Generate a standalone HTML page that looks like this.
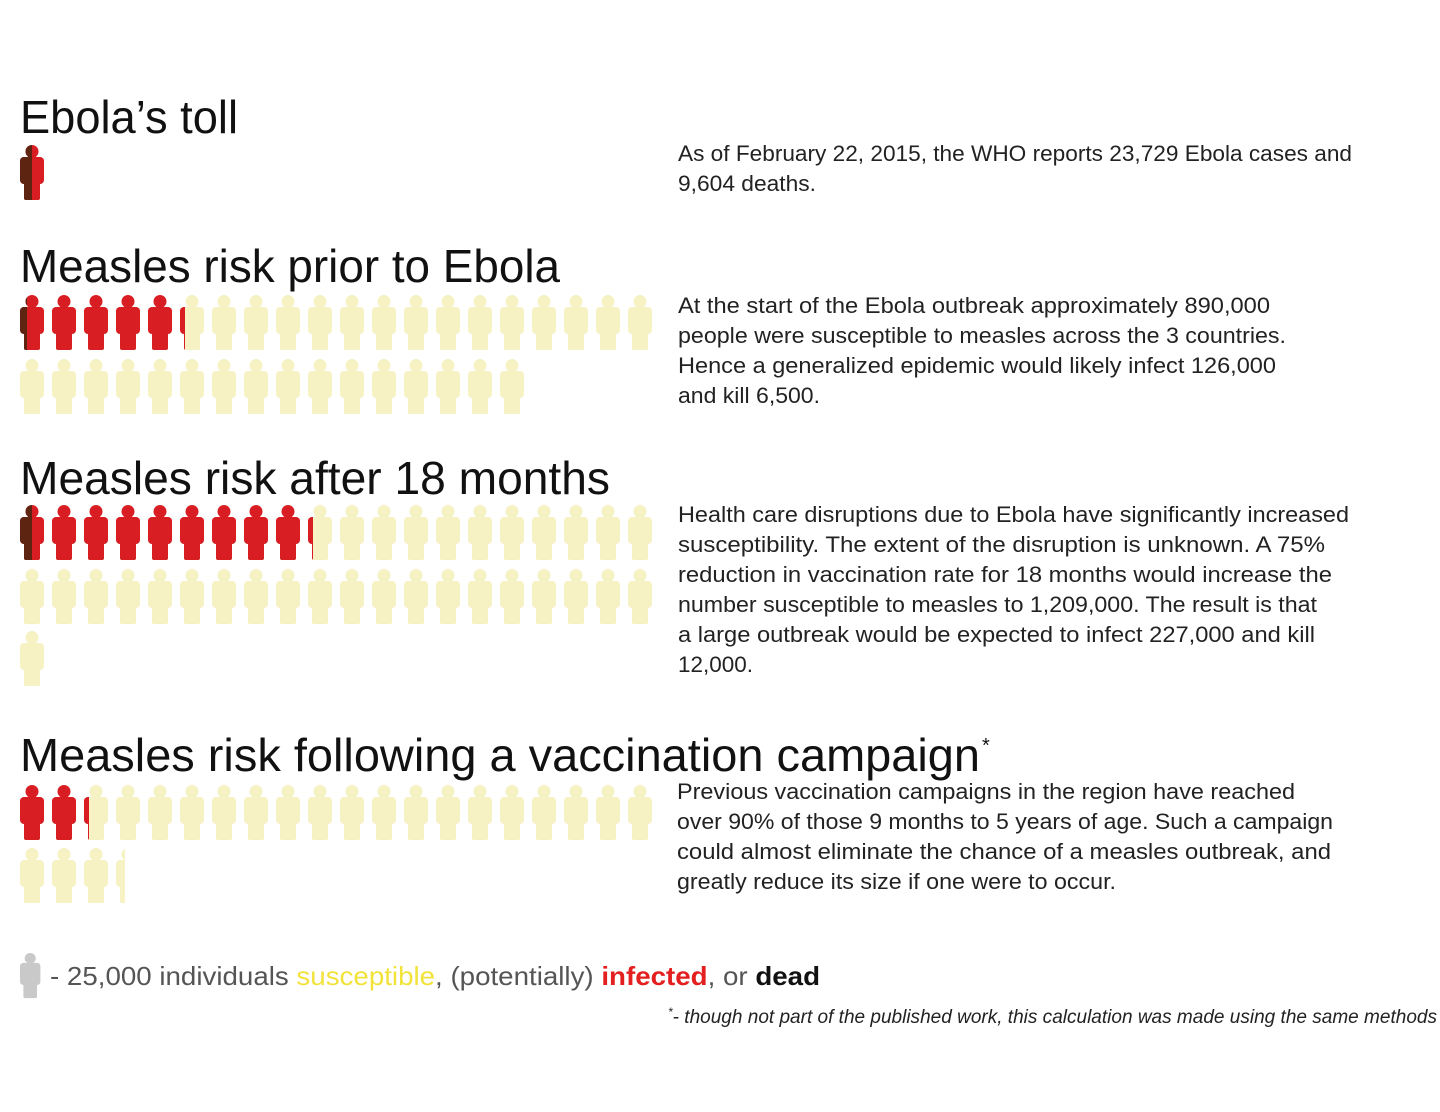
<!DOCTYPE html>
<html><head><meta charset="utf-8"><style>html,body{margin:0;padding:0;background:#fff}svg{display:block}</style></head><body>
<svg width="1440" height="1112" viewBox="0 0 1440 1112" xmlns="http://www.w3.org/2000/svg" font-family="Liberation Sans, sans-serif">
<defs>
<symbol id="p" viewBox="0 0 24 55" width="24" height="55" overflow="visible">
<circle cx="12" cy="6.5" r="6.5"/>
<rect x="0" y="12" width="24" height="27" rx="4"/>
<rect x="4" y="20" width="16" height="35" rx="2"/>
</symbol>
<clipPath id="c25"><rect x="0" y="0" width="7" height="60"/></clipPath>
<clipPath id="c50"><rect x="0" y="0" width="12" height="60"/></clipPath>
<clipPath id="c4"><rect x="0" y="0" width="5" height="60"/></clipPath>
<clipPath id="c8"><rect x="0" y="0" width="9" height="60"/></clipPath>
</defs>
<g fill="#111" font-size="46">
<text x="20" y="133" textLength="218" lengthAdjust="spacingAndGlyphs">Ebola’s toll</text>
<text x="20" y="282" textLength="540" lengthAdjust="spacingAndGlyphs">Measles risk prior to Ebola</text>
<text x="20" y="494" textLength="590" lengthAdjust="spacingAndGlyphs">Measles risk after 18 months</text>
<text x="20" y="771" textLength="960" lengthAdjust="spacingAndGlyphs">Measles risk following a vaccination campaign</text>
<text x="982" y="752" font-size="20">*</text>
</g>
<g fill="#222" font-size="22">
<text x="678" y="161" textLength="674" lengthAdjust="spacingAndGlyphs">As of February 22, 2015, the WHO reports 23,729 Ebola cases and</text>
<text x="678" y="191" textLength="138" lengthAdjust="spacingAndGlyphs">9,604 deaths.</text>
<text x="678" y="313" textLength="592" lengthAdjust="spacingAndGlyphs">At the start of the Ebola outbreak approximately 890,000</text>
<text x="678" y="343" textLength="608" lengthAdjust="spacingAndGlyphs">people were susceptible to measles across the 3 countries.</text>
<text x="678" y="373" textLength="598" lengthAdjust="spacingAndGlyphs">Hence a generalized epidemic would likely infect 126,000</text>
<text x="678" y="403" textLength="142" lengthAdjust="spacingAndGlyphs">and kill 6,500.</text>
<text x="678" y="522" textLength="671" lengthAdjust="spacingAndGlyphs">Health care disruptions due to Ebola have significantly increased</text>
<text x="678" y="552" textLength="647" lengthAdjust="spacingAndGlyphs">susceptibility.  The extent of the disruption is unknown. A 75%</text>
<text x="678" y="582" textLength="654" lengthAdjust="spacingAndGlyphs">reduction in vaccination rate for 18 months would increase the</text>
<text x="678" y="612" textLength="639" lengthAdjust="spacingAndGlyphs">number susceptible to measles to 1,209,000. The result is that</text>
<text x="678" y="642" textLength="637" lengthAdjust="spacingAndGlyphs">a large outbreak would be expected to infect 227,000 and kill</text>
<text x="678" y="672" textLength="75" lengthAdjust="spacingAndGlyphs">12,000.</text>
<text x="677" y="799" textLength="618" lengthAdjust="spacingAndGlyphs">Previous vaccination campaigns in the region have reached</text>
<text x="677" y="829" textLength="656" lengthAdjust="spacingAndGlyphs">over 90% of those 9 months to 5 years of age. Such a campaign</text>
<text x="677" y="859" textLength="654" lengthAdjust="spacingAndGlyphs">could  almost  eliminate the chance of a measles outbreak, and</text>
<text x="677" y="889" textLength="439" lengthAdjust="spacingAndGlyphs">greatly reduce its size if one were to occur.</text>
</g>
<!-- Ebola toll -->
<g transform="translate(20,145)"><use href="#p" fill="#d81e22"/><use href="#p" fill="#5e2412" clip-path="url(#c50)"/></g>
<!-- Section 2 -->
<g fill="#f6f2c4">
<g transform="translate(0,295)">
<use href="#p" x="20" fill="#d81e22"/><use href="#p" x="52" fill="#d81e22"/><use href="#p" x="84" fill="#d81e22"/><use href="#p" x="116" fill="#d81e22"/><use href="#p" x="148" fill="#d81e22"/>
<use href="#p" x="180"/><use href="#p" x="212"/><use href="#p" x="244"/><use href="#p" x="276"/><use href="#p" x="308"/><use href="#p" x="340"/><use href="#p" x="372"/><use href="#p" x="404"/><use href="#p" x="436"/><use href="#p" x="468"/><use href="#p" x="500"/><use href="#p" x="532"/><use href="#p" x="564"/><use href="#p" x="596"/><use href="#p" x="628"/>
</g>
<g transform="translate(20,295)"><use href="#p" fill="#5e2412" clip-path="url(#c25)"/></g>
<g transform="translate(180,295)"><use href="#p" fill="#d81e22" clip-path="url(#c4)"/></g>
<g transform="translate(0,359)">
<use href="#p" x="20"/><use href="#p" x="52"/><use href="#p" x="84"/><use href="#p" x="116"/><use href="#p" x="148"/><use href="#p" x="180"/><use href="#p" x="212"/><use href="#p" x="244"/><use href="#p" x="276"/><use href="#p" x="308"/><use href="#p" x="340"/><use href="#p" x="372"/><use href="#p" x="404"/><use href="#p" x="436"/><use href="#p" x="468"/><use href="#p" x="500"/>
</g>
<!-- Section 3 -->
<g transform="translate(0,505)">
<use href="#p" x="20" fill="#d81e22"/><use href="#p" x="52" fill="#d81e22"/><use href="#p" x="84" fill="#d81e22"/><use href="#p" x="116" fill="#d81e22"/><use href="#p" x="148" fill="#d81e22"/><use href="#p" x="180" fill="#d81e22"/><use href="#p" x="212" fill="#d81e22"/><use href="#p" x="244" fill="#d81e22"/><use href="#p" x="276" fill="#d81e22"/>
<use href="#p" x="308"/><use href="#p" x="340"/><use href="#p" x="372"/><use href="#p" x="404"/><use href="#p" x="436"/><use href="#p" x="468"/><use href="#p" x="500"/><use href="#p" x="532"/><use href="#p" x="564"/><use href="#p" x="596"/><use href="#p" x="628"/>
</g>
<g transform="translate(20,505)"><use href="#p" fill="#5e2412" clip-path="url(#c50)"/></g>
<g transform="translate(308,505)"><use href="#p" fill="#d81e22" clip-path="url(#c4)"/></g>
<g transform="translate(0,569)">
<use href="#p" x="20"/><use href="#p" x="52"/><use href="#p" x="84"/><use href="#p" x="116"/><use href="#p" x="148"/><use href="#p" x="180"/><use href="#p" x="212"/><use href="#p" x="244"/><use href="#p" x="276"/><use href="#p" x="308"/><use href="#p" x="340"/><use href="#p" x="372"/><use href="#p" x="404"/><use href="#p" x="436"/><use href="#p" x="468"/><use href="#p" x="500"/><use href="#p" x="532"/><use href="#p" x="564"/><use href="#p" x="596"/><use href="#p" x="628"/>
</g>
<use href="#p" x="20" y="631"/>
<!-- Section 4 -->
<g transform="translate(0,785)">
<use href="#p" x="20" fill="#d81e22"/><use href="#p" x="52" fill="#d81e22"/>
<use href="#p" x="84"/><use href="#p" x="116"/><use href="#p" x="148"/><use href="#p" x="180"/><use href="#p" x="212"/><use href="#p" x="244"/><use href="#p" x="276"/><use href="#p" x="308"/><use href="#p" x="340"/><use href="#p" x="372"/><use href="#p" x="404"/><use href="#p" x="436"/><use href="#p" x="468"/><use href="#p" x="500"/><use href="#p" x="532"/><use href="#p" x="564"/><use href="#p" x="596"/><use href="#p" x="628"/>
</g>
<g transform="translate(84,785)"><use href="#p" fill="#d81e22" clip-path="url(#c4)"/></g>
<g transform="translate(0,848)">
<use href="#p" x="20"/><use href="#p" x="52"/><use href="#p" x="84"/>
</g>
<g transform="translate(116,848)"><use href="#p" clip-path="url(#c8)"/></g>
</g>
<!-- legend -->
<g transform="translate(20,953) scale(0.85,0.82)"><use href="#p" fill="#c9c9c9"/></g>
<text x="50" y="985" font-size="26" fill="#555" textLength="770" lengthAdjust="spacingAndGlyphs">- 25,000 individuals <tspan fill="#f2e33a">susceptible</tspan>,  (potentially) <tspan fill="#e3201f" font-weight="bold">infected</tspan>, or <tspan fill="#111" font-weight="bold">dead</tspan></text>
<text x="668" y="1023" font-size="19" font-style="italic" fill="#222" textLength="769" lengthAdjust="spacingAndGlyphs"><tspan font-size="12" dy="-7">*</tspan><tspan dy="7">- though not part of the published work, this calculation was made using the same methods</tspan></text>
</svg>
</body></html>
